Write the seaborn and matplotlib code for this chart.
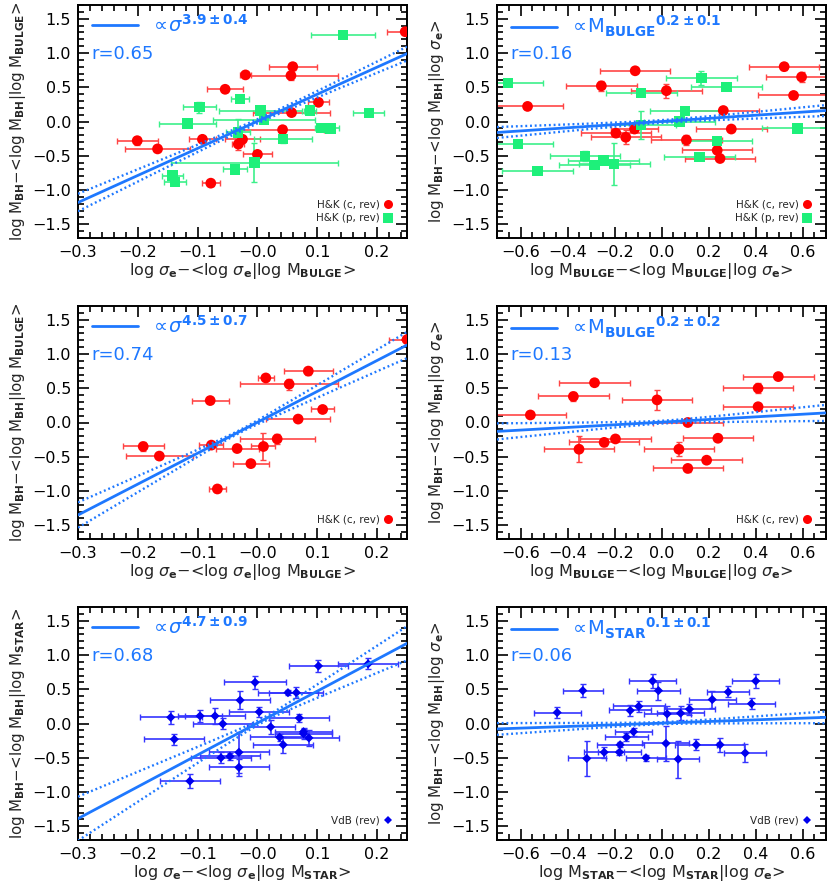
import numpy as np
import matplotlib
matplotlib.use("Agg")
import matplotlib.pyplot as plt
from matplotlib.lines import Line2D
from matplotlib.ticker import MultipleLocator, FixedLocator
import seaborn as sns
import pandas as pd

sns.set_style("ticks")
plt.rcParams['font.family'] = ['DejaVu Sans']
plt.rcParams['mathtext.fontset'] = 'dejavusans'

# ---------------- data ----------------
# Panel 1: residual vs sigma (H&K)
p1_c_x = [0.247, 0.059, 0.056, -0.020, -0.054, 0.102, 0.057, 0.042, -0.092, -0.201, -0.167, -0.025, -0.032, 0.000, -0.078]
p1_c_y = [1.31, 0.80, 0.67, 0.68, 0.47, 0.28, 0.13, -0.12, -0.26, -0.28, -0.40, -0.26, -0.33, -0.48, -0.90]
p1_c_xerr = [0.03, 0.04, 0.078, 0.01, 0.03, 0.018, 0.065, 0.07, 0.022, 0.034, 0.055, 0.03, 0.01, 0.025, 0.015]
p1_c_yerr = [0.03, 0.05, 0.06, 0.03, 0.04, 0.04, 0.03, 0.06, 0.03, 0.06, 0.03, 0.03, 0.08, 0.03, 0.04]
p1_p_x = [0.143, -0.029, -0.097, 0.005, 0.011, 0.088, 0.186, -0.117, 0.106, 0.122, -0.033, 0.043, -0.005, -0.038, -0.142, -0.138]
p1_p_y = [1.26, 0.33, 0.21, 0.16, 0.02, 0.16, 0.12, -0.03, -0.09, -0.10, -0.16, -0.26, -0.60, -0.70, -0.79, -0.88]
p1_p_xerr = [0.054, 0.015, 0.028, 0.07, 0.085, 0.01, 0.026, 0.047, 0.01, 0.014, 0.02, 0.048, 0.14, 0.02, 0.018, 0.018]
p1_p_yerr = [0.03, 0.04, 0.08, 0.03, 0.03, 0.04, 0.03, 0.03, 0.03, 0.03, 0.20, 0.05, 0.29, 0.05, 0.06, 0.03]

# Panel 2: residual vs M_BULGE (H&K)
p2_c_x = [0.522, 0.596, 0.562, -0.112, -0.256, 0.021, -0.570, 0.263, 0.297, -0.115, -0.194, -0.152, 0.106, 0.237, 0.249]
p2_c_y = [0.80, 0.65, 0.38, 0.74, 0.52, 0.45, 0.22, 0.16, -0.11, -0.11, -0.17, -0.23, -0.27, -0.42, -0.54]
p2_c_xerr = [0.15, 0.15, 0.15, 0.15, 0.15, 0.15, 0.15, 0.15, 0.15, 0.10, 0.15, 0.15, 0.15, 0.15, 0.15]
p2_c_yerr = [0.05, 0.07, 0.03, 0.03, 0.07, 0.10, 0.03, 0.03, 0.03, 0.03, 0.03, 0.10, 0.07, 0.03, 0.03]
p2_p_x = [-0.653, 0.170, 0.276, -0.086, 0.099, 0.076, -0.087, 0.579, -0.612, 0.237, 0.162, -0.325, -0.285, -0.247, -0.201, -0.528]
p2_p_y = [0.56, 0.63, 0.50, 0.42, 0.15, 0.00, -0.05, -0.10, -0.33, -0.28, -0.52, -0.50, -0.63, -0.57, -0.62, -0.72]
p2_p_xerr = [0.15, 0.15, 0.15, 0.15, 0.15, 0.15, 0.15, 0.15, 0.15, 0.15, 0.15, 0.15, 0.15, 0.15, 0.15, 0.15]
p2_p_yerr = [0.03, 0.10, 0.03, 0.03, 0.03, 0.03, 0.20, 0.06, 0.03, 0.03, 0.03, 0.07, 0.03, 0.03, 0.30, 0.03]

# Panel 3: residual vs sigma (H&K c)
p3_c_x = [0.250, 0.014, 0.085, 0.053, -0.079, 0.109, 0.068, 0.033, 0.010, -0.034, -0.077, -0.191, -0.164, -0.011, -0.067]
p3_c_y = [1.21, 0.65, 0.75, 0.56, 0.32, 0.19, 0.05, -0.24, -0.35, -0.38, -0.33, -0.35, -0.49, -0.60, -0.97]
p3_c_xerr = [0.03, 0.013, 0.041, 0.082, 0.031, 0.019, 0.053, 0.063, 0.02, 0.036, 0.02, 0.034, 0.056, 0.03, 0.014]
p3_c_yerr = [0.03, 0.03, 0.05, 0.08, 0.04, 0.04, 0.03, 0.07, 0.19, 0.03, 0.03, 0.06, 0.03, 0.03, 0.04]

# Panel 4: residual vs M_BULGE (H&K c)
p4_c_x = [0.497, 0.411, 0.411, -0.285, -0.375, -0.019, -0.558, 0.112, 0.240, -0.196, -0.244, -0.351, 0.074, 0.192, 0.112]
p4_c_y = [0.67, 0.50, 0.23, 0.58, 0.38, 0.33, 0.11, 0.00, -0.23, -0.24, -0.29, -0.39, -0.39, -0.55, -0.67]
p4_c_xerr = [0.15] * 15
p4_c_yerr = [0.04, 0.07, 0.03, 0.03, 0.07, 0.15, 0.03, 0.03, 0.03, 0.03, 0.05, 0.19, 0.10, 0.03, 0.05]

# Panel 5: residual vs sigma (VdB)
p5_x = [0.102, 0.185, -0.004, 0.051, 0.065, -0.029, 0.003, -0.145, -0.096, -0.071, -0.058, 0.070, 0.022, 0.077, 0.077, 0.086, 0.037, 0.043, -0.139, -0.061, -0.046, -0.031, -0.031, -0.113]
p5_y = [0.84, 0.87, 0.60, 0.45, 0.45, 0.34, 0.17, 0.09, 0.11, 0.11, -0.005, 0.08, -0.05, -0.12, -0.15, -0.21, -0.20, -0.31, -0.23, -0.50, -0.48, -0.42, -0.64, -0.84]
p5_xerr = [0.05, 0.05, 0.052, 0.05, 0.045, 0.05, 0.05, 0.052, 0.037, 0.05, 0.05, 0.05, 0.04, 0.048, 0.048, 0.05, 0.05, 0.05, 0.05, 0.05, 0.05, 0.05, 0.05, 0.05]
p5_yerr = [0.09, 0.08, 0.10, 0.04, 0.08, 0.13, 0.07, 0.09, 0.09, 0.11, 0.08, 0.06, 0.10, 0.04, 0.08, 0.12, 0.05, 0.12, 0.08, 0.08, 0.05, 0.30, 0.12, 0.10]

# Panel 6: residual vs M_STAR (VdB)
p6_x = [-0.444, -0.335, -0.038, -0.013, -0.133, -0.097, 0.024, 0.081, 0.119, 0.216, 0.284, 0.401, 0.383, -0.119, -0.149, -0.176, -0.179, -0.244, -0.318, -0.066, 0.019, 0.071, 0.148, 0.249, 0.356]
p6_y = [0.16, 0.48, 0.62, 0.48, 0.19, 0.25, 0.14, 0.15, 0.21, 0.35, 0.46, 0.62, 0.29, -0.12, -0.20, -0.31, -0.42, -0.42, -0.51, -0.50, -0.29, -0.52, -0.31, -0.31, -0.43]
p6_xerr = [0.10, 0.085, 0.10, 0.09, 0.09, 0.11, 0.10, 0.10, 0.11, 0.10, 0.09, 0.10, 0.10, 0.08, 0.09, 0.10, 0.09, 0.085, 0.08, 0.085, 0.10, 0.09, 0.09, 0.10, 0.09]
p6_yerr = [0.08, 0.09, 0.10, 0.13, 0.08, 0.08, 0.12, 0.10, 0.08, 0.12, 0.08, 0.10, 0.08, 0.06, 0.06, 0.04, 0.04, 0.08, 0.25, 0.04, 0.25, 0.27, 0.08, 0.10, 0.13]

# fits: slope, intercept, band (x0, s0, sb)
fit_slope = [3.95, 0.229, 4.51, 0.193, 4.65, 0.121]
fit_icpt = [0.003, 0.0, 0.003, 0.005, 0.007, 0.005]
band_x0 = [0.01, 0.0, -0.03, 0.0, 0.01, 0.0]
band_s0 = [0.03, 0.02, 0.02, 0.02, 0.03, 0.015]
band_sb = [0.40, 0.11, 0.68, 0.165, 1.03, 0.12]

fit_labels = [r'$\propto\!\sigma^{\mathbf{3.9\pm0.4}}$',
              r'$\propto\!\mathrm{M}_{\mathbf{BULGE}}{}^{\mathbf{0.2\pm0.1}}$',
              r'$\propto\!\sigma^{\mathbf{4.5\pm0.7}}$',
              r'$\propto\!\mathrm{M}_{\mathbf{BULGE}}{}^{\mathbf{0.2\pm0.2}}$',
              r'$\propto\!\sigma^{\mathbf{4.7\pm0.9}}$',
              r'$\propto\!\mathrm{M}_{\mathbf{STAR}}{}^{\mathbf{0.1\pm0.1}}$']
r_labels = ['r=0.65', 'r=0.16', 'r=0.74', 'r=0.13', 'r=0.68', 'r=0.06']

xlabels = [r'log $\sigma_{\mathbf{e}}$$-$<log $\sigma_{\mathbf{e}}$|log M$_{\mathbf{BULGE}}$>',
           r'log M$_{\mathbf{BULGE}}$$-$<log M$_{\mathbf{BULGE}}$|log $\sigma_{\mathbf{e}}$>',
           r'log $\sigma_{\mathbf{e}}$$-$<log $\sigma_{\mathbf{e}}$|log M$_{\mathbf{BULGE}}$>',
           r'log M$_{\mathbf{BULGE}}$$-$<log M$_{\mathbf{BULGE}}$|log $\sigma_{\mathbf{e}}$>',
           r'log $\sigma_{\mathbf{e}}$$-$<log $\sigma_{\mathbf{e}}$|log M$_{\mathbf{STAR}}$>',
           r'log M$_{\mathbf{STAR}}$$-$<log M$_{\mathbf{STAR}}$|log $\sigma_{\mathbf{e}}$>']
ylabels = [r'log M$_{\mathbf{BH}}$$-$<log M$_{\mathbf{BH}}$|log M$_{\mathbf{BULGE}}$>',
           r'log M$_{\mathbf{BH}}$$-$<log M$_{\mathbf{BH}}$|log $\sigma_{\mathbf{e}}$>',
           r'log M$_{\mathbf{BH}}$$-$<log M$_{\mathbf{BH}}$|log M$_{\mathbf{BULGE}}$>',
           r'log M$_{\mathbf{BH}}$$-$<log M$_{\mathbf{BH}}$|log $\sigma_{\mathbf{e}}$>',
           r'log M$_{\mathbf{BH}}$$-$<log M$_{\mathbf{BH}}$|log M$_{\mathbf{STAR}}$>',
           r'log M$_{\mathbf{BH}}$$-$<log M$_{\mathbf{BH}}$|log $\sigma_{\mathbf{e}}$>']

y_ticks = [-1.5, -1.0, -0.5, 0.0, 0.5, 1.0, 1.5]
y_ticklabels = ['\u22121.5', '\u22121.0', '\u22120.5', '0.0', '0.5', '1.0', '1.5']
xs_ticks = [-0.3, -0.2, -0.1, 0.0, 0.1, 0.2]
xs_ticklabels = ['\u22120.3', '\u22120.2', '\u22120.1', '\u22120.0', '0.1', '0.2']
xm_ticks = [-0.6, -0.4, -0.2, 0.0, 0.2, 0.4, 0.6]
xm_ticklabels = ['\u22120.6', '\u22120.4', '\u22120.2', '0.0', '0.2', '0.4', '0.6']

# ---------------- style ----------------
FIT_BLUE = '#1E78FF'
RED = '#FF0000'
GREEN = '#1EF07A'
BLUE = '#0000EE'

fig = plt.figure(figsize=(8.3, 8.94), dpi=100)
W, H = 830.0, 894.0
lefts = [78, 497]
tops = [5, 306, 607]
aw, ah = 329, 233

axes = []
for r in range(3):
    for c in range(2):
        ax = fig.add_axes([lefts[c] / W, 1 - (tops[r] + ah) / H, aw / W, ah / H])
        axes.append(ax)


def draw_series(ax, x, y, xerr, yerr, color, ecolor, marker, size, label):
    df = pd.DataFrame({'x': x, 'y': y})
    ax.errorbar(x, y, xerr=xerr, yerr=yerr, fmt='none', ecolor=ecolor,
                elinewidth=1.2, capsize=2.2, capthick=1.0, zorder=2)
    sns.scatterplot(data=df, x='x', y='y', ax=ax, color=color, marker=marker,
                    s=size, edgecolor='none', zorder=3, label=label, legend=False)


series = [
    [(p1_c_x, p1_c_y, p1_c_xerr, p1_c_yerr, RED, '#FF4545', 'o', 60, 'H&K (c, rev)'),
     (p1_p_x, p1_p_y, p1_p_xerr, p1_p_yerr, GREEN, '#3CF08A', 's', 55, 'H&K (p, rev)')],
    [(p2_c_x, p2_c_y, p2_c_xerr, p2_c_yerr, RED, '#FF4545', 'o', 60, 'H&K (c, rev)'),
     (p2_p_x, p2_p_y, p2_p_xerr, p2_p_yerr, GREEN, '#3CF08A', 's', 55, 'H&K (p, rev)')],
    [(p3_c_x, p3_c_y, p3_c_xerr, p3_c_yerr, RED, '#FF4545', 'o', 60, 'H&K (c, rev)')],
    [(p4_c_x, p4_c_y, p4_c_xerr, p4_c_yerr, RED, '#FF4545', 'o', 60, 'H&K (c, rev)')],
    [(p5_x, p5_y, p5_xerr, p5_yerr, BLUE, '#3535FF', 'D', 22, 'VdB (rev)')],
    [(p6_x, p6_y, p6_xerr, p6_yerr, BLUE, '#3535FF', 'D', 22, 'VdB (rev)')],
]

for i, ax in enumerate(axes):
    left_col = (i % 2 == 0)
    xlim = (-0.3, 0.25) if left_col else (-0.7, 0.7)
    ax.set_xlim(*xlim)
    ax.set_ylim(-1.7, 1.7)

    # fit line and band
    xx = np.linspace(xlim[0], xlim[1], 200)
    yy = fit_icpt[i] + fit_slope[i] * xx
    hw = np.sqrt(band_s0[i] ** 2 + (band_sb[i] * (xx - band_x0[i])) ** 2)
    sns.lineplot(x=xx, y=yy, ax=ax, color=FIT_BLUE, lw=2.0, zorder=4)
    ax.plot(xx, yy + hw, color=FIT_BLUE, lw=1.7, ls=(0, (0.8, 1.2)), zorder=4)
    ax.plot(xx, yy - hw, color=FIT_BLUE, lw=1.7, ls=(0, (0.8, 1.2)), zorder=4)

    handles = []
    for (x, y, xe, ye, col, ecol, mk, sz, lab) in series[i]:
        draw_series(ax, x, y, xe, ye, col, ecol, mk, sz, lab)
        handles.append(Line2D([], [], ls='none', marker=mk, color=col,
                              markersize=(6.5 if mk != 'D' else 4.5), markeredgewidth=0))

    leg2 = ax.legend(handles=handles, labels=[s[-1] for s in series[i]],
                     loc='lower right', frameon=False, markerfirst=False,
                     fontsize=7.5, handlelength=0.8, handletextpad=0.4,
                     labelspacing=0.35, borderaxespad=1.0)
    ax.add_artist(leg2)

    ax.legend(handles=[Line2D([], [], color=FIT_BLUE, lw=2.0)], labels=[fit_labels[i]],
              loc='upper left', frameon=False, fontsize=14, handlelength=2.4,
              handletextpad=0.6, borderaxespad=0.3, labelcolor=FIT_BLUE,
              bbox_to_anchor=(0.0, 1.02))
    ax.text(0.04, 0.79, r_labels[i], transform=ax.transAxes, color=FIT_BLUE,
            fontsize=13, va='center', ha='left')

    # ticks
    if left_col:
        ax.xaxis.set_major_locator(FixedLocator(xs_ticks))
        ax.set_xticklabels(xs_ticklabels)
        ax.xaxis.set_minor_locator(MultipleLocator(0.02))
    else:
        ax.xaxis.set_major_locator(FixedLocator(xm_ticks))
        ax.set_xticklabels(xm_ticklabels)
        ax.xaxis.set_minor_locator(MultipleLocator(0.05))
    ax.yaxis.set_major_locator(FixedLocator(y_ticks))
    ax.set_yticklabels(y_ticklabels)
    ax.yaxis.set_minor_locator(MultipleLocator(0.1))
    ax.tick_params(which='both', direction='in', top=True, right=True,
                   labelsize=11.5, width=1.2, colors='black', pad=5)
    ax.tick_params(which='major', length=8)
    ax.tick_params(which='minor', length=4)
    for sp in ax.spines.values():
        sp.set_linewidth(1.4)
        sp.set_color('black')

    ax.set_xlabel(xlabels[i], fontsize=11.5, labelpad=1)
    ax.set_ylabel(ylabels[i], fontsize=10.8, labelpad=3)

fig.savefig('out.png', dpi=100)
